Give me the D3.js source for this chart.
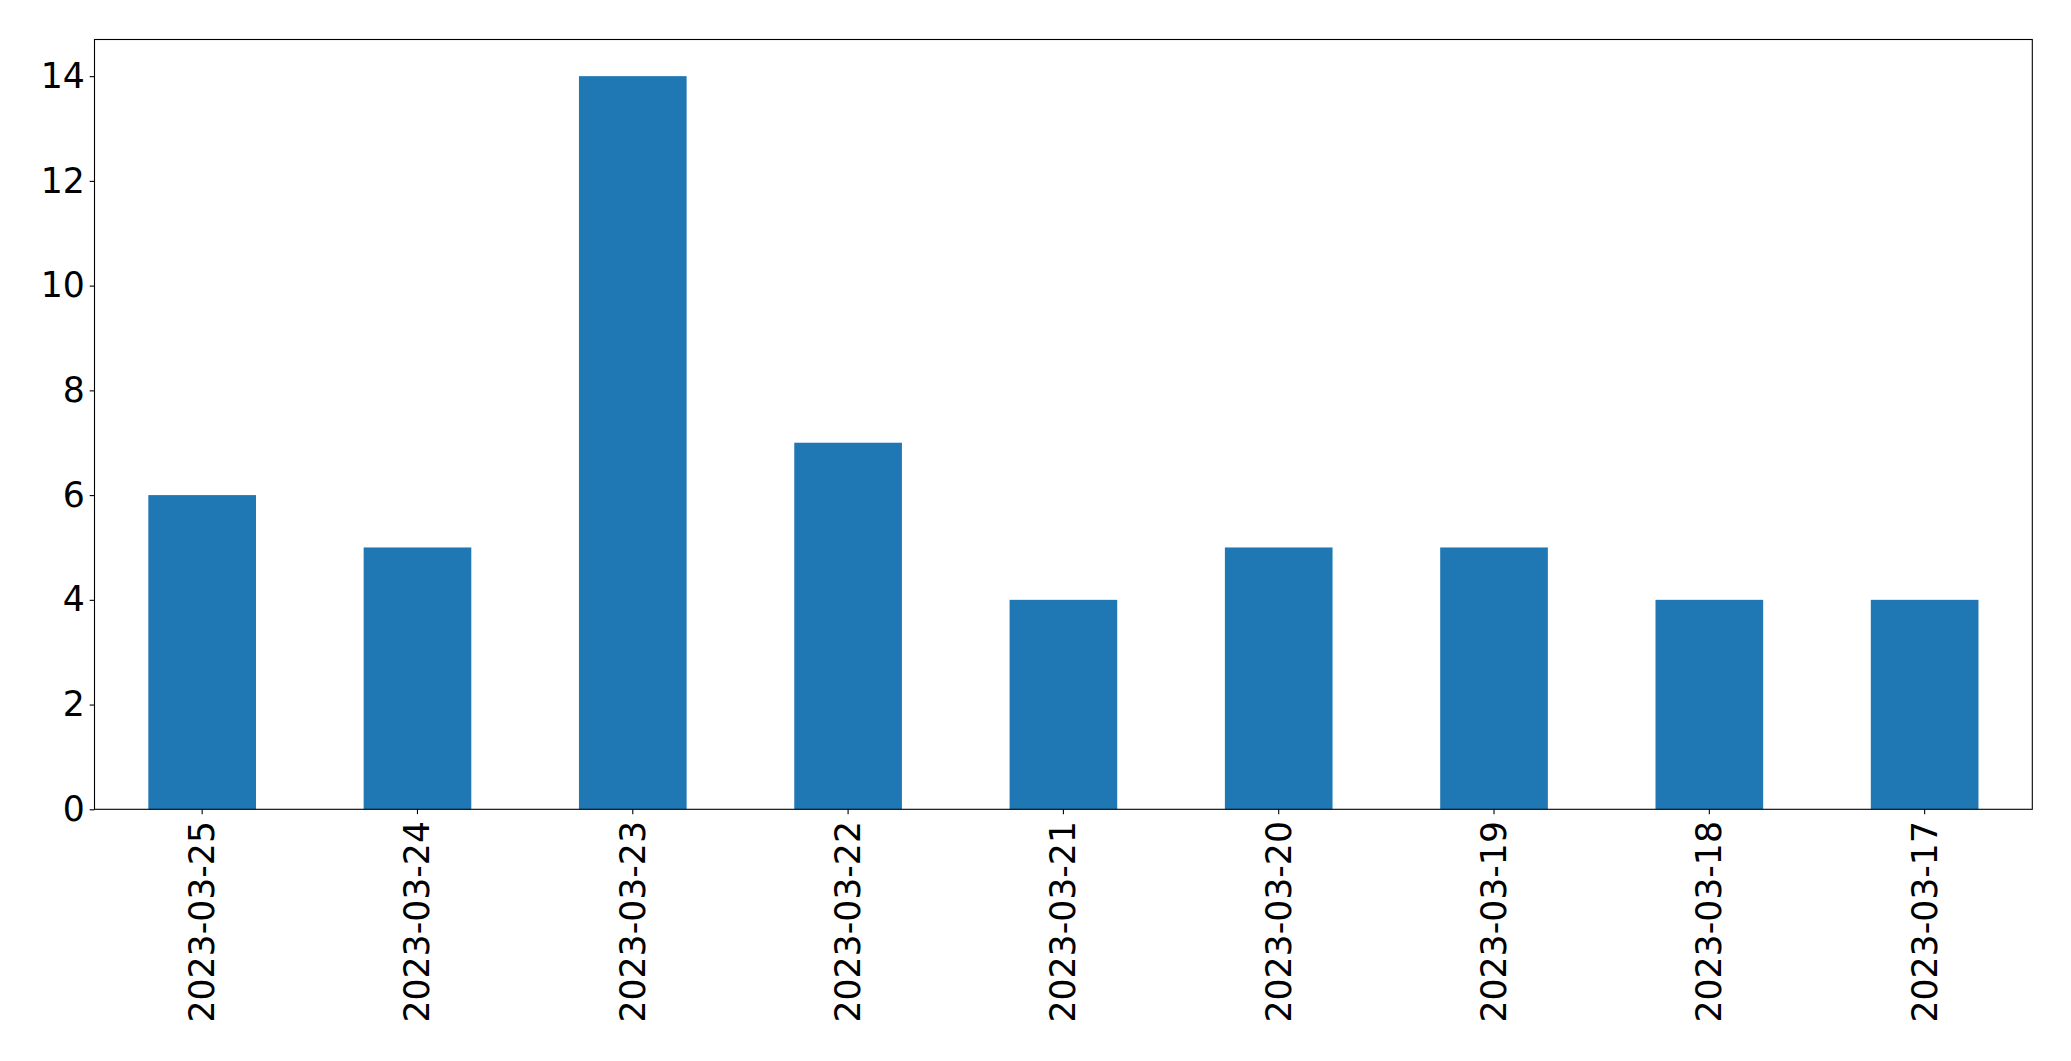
<!DOCTYPE html>
<html><head><meta charset="utf-8">
<script src="https://cdn.jsdelivr.net/npm/d3@7"></script>
<style>
html,body{margin:0;padding:0;background:#fff;}
svg{display:block;}
</style></head>
<body>
<svg id="chart" width="2071" height="1061"></svg>
<script>
const categories = ["2023-03-25","2023-03-24","2023-03-23","2023-03-22","2023-03-21","2023-03-20","2023-03-19","2023-03-18","2023-03-17"];
const values = [6,5,14,7,4,5,5,4,4];
const yTicks = [0,2,4,6,8,10,12,14];

const W = 2071, H = 1061;
const m = {left:94.5, right:W-2032.3, top:39.5, bottom:H-809.3};
const svg = d3.select("#chart");
const fontFam = "'DejaVu Sans', sans-serif";
const fs = 34.7;

const x = d3.scaleBand().domain(categories).range([m.left, W-m.right]).paddingInner(0.5).paddingOuter(0.25);
const y = d3.scaleLinear().domain([0, 14.7]).range([H-m.bottom, m.top]);

svg.append("g").selectAll("rect").data(values).join("rect")
  .attr("x", (d,i)=>x(categories[i]))
  .attr("width", x.bandwidth())
  .attr("y", d=>y(d))
  .attr("height", d=>y(0)-y(d))
  .attr("fill", "#1f77b4");

const tickLen = 4.86, pad = 4.86;

const xa = svg.append("g").attr("transform", `translate(0,${H-m.bottom})`)
  .call(d3.axisBottom(x).tickSizeInner(tickLen).tickSizeOuter(0).tickPadding(pad));
xa.select(".domain").remove();
xa.selectAll("line").attr("stroke","#000").attr("stroke-width",1.1);
xa.selectAll("text")
  .attr("font-family", fontFam).attr("font-size", fs).attr("fill","#000")
  .attr("transform", null)
  .attr("text-anchor","end")
  .attr("dy", null)
  .attr("y", 0).attr("x", 0)
  .attr("dominant-baseline","central")
  .attr("transform", `translate(0,${tickLen+pad+2}) rotate(-90)`);

const ya = svg.append("g").attr("transform", `translate(${m.left},0)`)
  .call(d3.axisLeft(y).tickValues(yTicks).tickFormat(d3.format("d")).tickSizeInner(tickLen).tickSizeOuter(0).tickPadding(pad));
ya.select(".domain").remove();
ya.selectAll("line").attr("stroke","#000").attr("stroke-width",1.1);
ya.selectAll("text").attr("font-family", fontFam).attr("font-size", fs).attr("fill","#000");

svg.append("rect")
  .attr("x", m.left).attr("y", m.top)
  .attr("width", W-m.right-m.left).attr("height", H-m.bottom-m.top)
  .attr("fill","none").attr("stroke","#000").attr("stroke-width",1.1);
</script>
</body></html>
